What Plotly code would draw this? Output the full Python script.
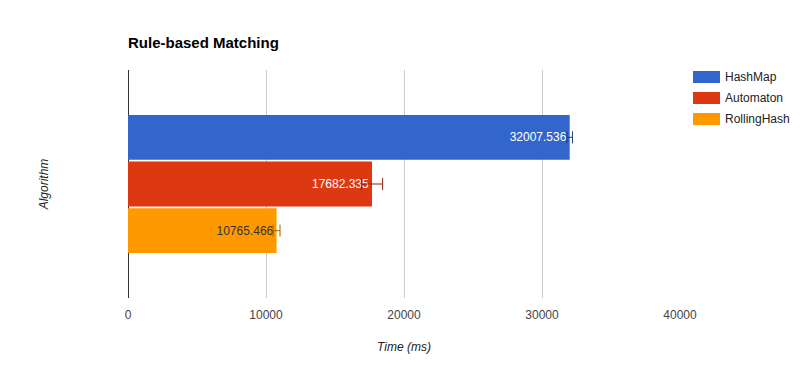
import plotly.graph_objects as go

names = ["HashMap", "Automaton", "RollingHash"]
values = [32007.536, 17682.335, 10765.466]
errors = [200, 770, 250]
colors = ["#3366cc", "#dc3912", "#ff9900"]
err_colors = ["#1f3d7a", "#8a240b", "#a36200"]
text_colors = ["#ffffff", "#ffffff", "#333333"]
x_ticks = [0, 10000, 20000, 30000, 40000]
category = [""]

W, H = 809, 371
L, R, T, B = 128, 129, 70, 73
pw, ph = W - L - R, H - T - B

fig = go.Figure()
for n, v, e, c, ec, tc in zip(names, values, errors, colors, err_colors, text_colors):
    fig.add_trace(go.Bar(
        name=n, y=category, x=[v], orientation="h",
        marker=dict(color=c, line=dict(width=0)),
        error_x=dict(type="data", array=[e], visible=True, color=ec, thickness=1, width=6),
        texttemplate="%{x:.3f}", textposition="inside", insidetextanchor="end",
        textfont=dict(family="Liberation Sans, Arial", size=12, color=tc),
        constraintext="none", cliponaxis=False, showlegend=False,
    ))

def px_to_paper_x(px):
    return (px - L) / pw

def px_to_paper_y(py):
    return 1 - (py - T) / ph

shapes, annots = [], []
for i, (n, c) in enumerate(zip(names, colors)):
    yc = 77 + 21 * i
    shapes.append(dict(type="rect", xref="paper", yref="paper",
                       x0=px_to_paper_x(693), x1=px_to_paper_x(720),
                       y0=px_to_paper_y(yc + 6), y1=px_to_paper_y(yc - 6),
                       fillcolor=c, line=dict(width=0)))
    annots.append(dict(xref="paper", yref="paper", x=px_to_paper_x(723), y=px_to_paper_y(yc),
                       xanchor="left", yanchor="middle", text=n, showarrow=False,
                       font=dict(family="Liberation Sans, Arial", size=12, color="#222222")))

fig.update_layout(
    width=W, height=H,
    margin=dict(l=L, r=R, t=T, b=B, autoexpand=False),
    paper_bgcolor="white", plot_bgcolor="white",
    barmode="group", bargap=0.386, bargroupgap=0.04,
    font=dict(family="Liberation Sans, Arial", size=12, color="#444444"),
    title=dict(text="<b>Rule-based Matching</b>", x=L / W, xanchor="left",
               y=1 - 43 / H, yanchor="middle",
               font=dict(family="Liberation Sans, Arial", size=15, color="#000000")),
    xaxis=dict(range=[0, 40000], tickvals=x_ticks, ticktext=[str(t) for t in x_ticks],
               showgrid=True, gridcolor="#cccccc", gridwidth=1,
               zeroline=True, zerolinecolor="#333333", zerolinewidth=1,
               showline=False, ticks="", ticklabelstandoff=8,
               tickfont=dict(size=12, color="#444444"),
               title=dict(text="<i>Time (ms)</i>", standoff=21,
                          font=dict(size=12, color="#222222"))),
    yaxis=dict(autorange="reversed", showticklabels=False, showgrid=False,
               zeroline=False, showline=False, ticks="",
               title=dict(text="<i>Algorithm</i>", standoff=75,
                          font=dict(size=12, color="#222222"))),
    shapes=shapes, annotations=annots,
)

fig.write_html("out.html", config={"displayModeBar": False},
               post_script="document.body.style.margin='0';")
